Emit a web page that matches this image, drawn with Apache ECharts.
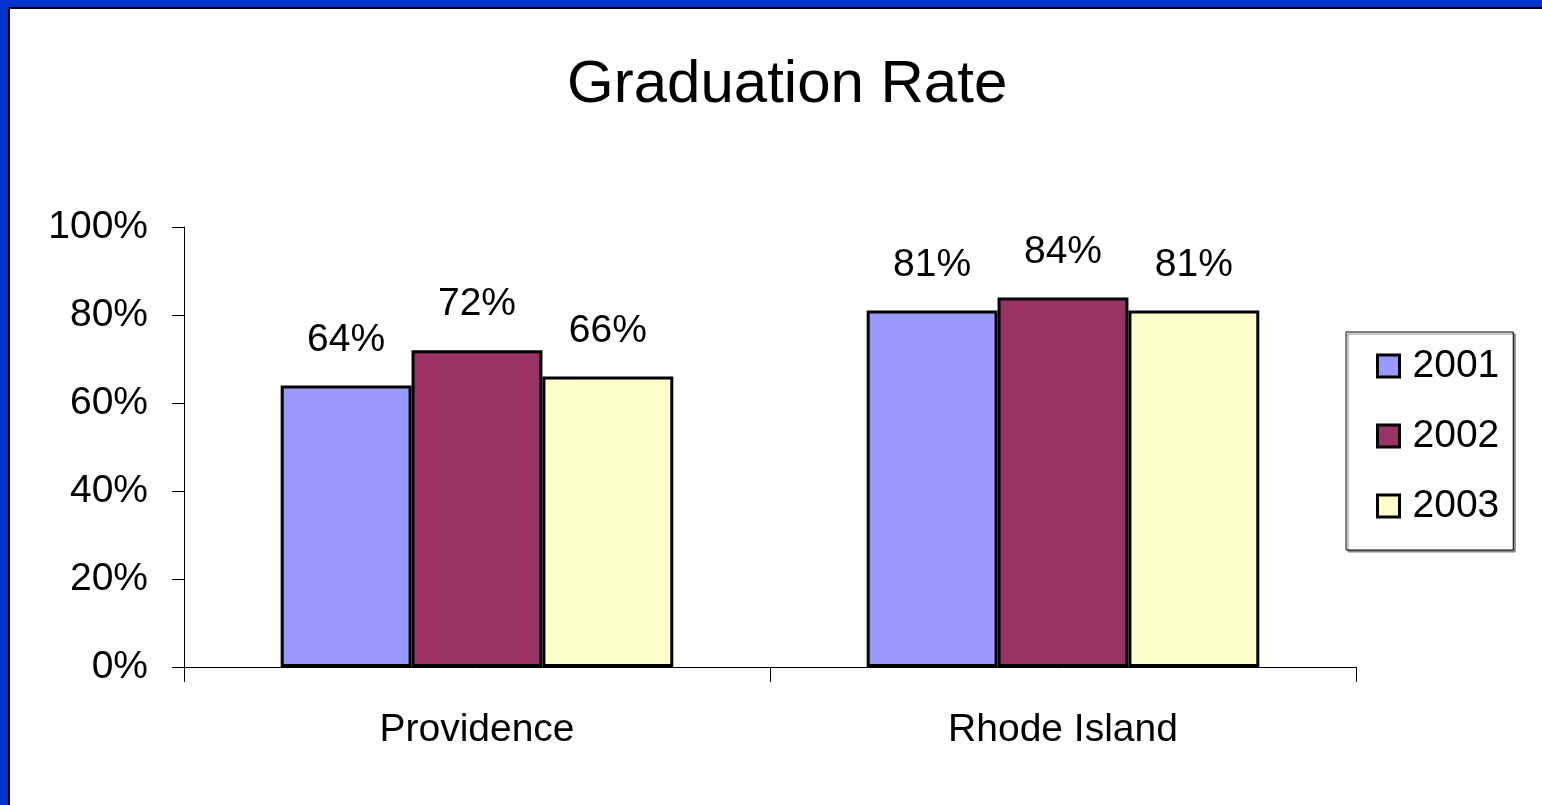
<!DOCTYPE html>
<html>
<head>
<meta charset="utf-8">
<title>Graduation Rate</title>
<script src="https://cdn.jsdelivr.net/npm/echarts@6/dist/echarts.min.js"></script>
<style>
  html, body { margin: 0; padding: 0; background: #fff; }
  #chart { position: absolute; left: 0; top: 0; width: 1542px; height: 805px; }
  #frame {
    position: absolute; left: 0; top: 0; width: 1542px; height: 805px;
    box-sizing: border-box; pointer-events: none;
    border-top: 7px solid #0033cc; border-left: 8px solid #0033cc;
  }
  #frame::after {
    content: ''; position: absolute; left: 0; top: 0; right: 0; bottom: 0;
    border-top: 2px solid #000; border-left: 2px solid #000;
  }
</style>
</head>
<body>
<div id="chart"></div>
<div id="frame"></div>
<script>
// data
var categories = ['Providence', 'Rhode Island'];
var years = ['2001', '2002', '2003'];
var rate2001 = [64, 81];
var rate2002 = [72, 84];
var rate2003 = [66, 81];
var barColors = ['#9999ff', '#993366', '#ffffcc'];

var font = 'Liberation Sans, Arial, sans-serif';
var chart = echarts.init(document.getElementById('chart'));

function bar(name, data, color) {
    return {
        name: name,
        type: 'bar',
        data: data,
        barGap: '0%',
        barCategoryGap: '33%',
        itemStyle: {
            color: color,
            borderColor: '#000',
            borderWidth: 3
        },
        label: {
            show: true,
            position: 'top',
            distance: 26,
            formatter: '{c}%',
            color: '#000',
            fontSize: 39,
            fontFamily: font
        }
    };
}

var option = {
    backgroundColor: '#fff',
    animation: false,
    title: {
        text: 'Graduation Rate',
        left: 562,
        top: 50,
        textStyle: {
            color: '#000',
            fontSize: 60,
            fontWeight: 'normal',
            fontFamily: font
        }
    },
    legend: {
        orient: 'vertical',
        left: 1346,
        top: 332,
        padding: [14, 14, 24, 30],
        itemGap: 30,
        itemWidth: 22,
        itemHeight: 22,
        icon: 'rect',
        borderColor: '#000',
        borderWidth: 1,
        backgroundColor: '#fff',
        shadowColor: '#888',
        shadowOffsetX: 2,
        shadowOffsetY: 2,
        shadowBlur: 0,
        itemStyle: { borderColor: '#000', borderWidth: 3 },
        textStyle: {
            color: '#000',
            fontSize: 39,
            fontFamily: font,
            lineHeight: 40,
            padding: [0, 0, 0, 8]
        },
        data: years
    },
    grid: {
        left: 184,
        top: 227,
        right: 186,
        bottom: 138
    },
    xAxis: {
        type: 'category',
        data: categories,
        axisLine: { lineStyle: { color: '#000', width: 1 } },
        axisTick: { show: true, length: 15, lineStyle: { color: '#000' } },
        axisLabel: {
            margin: 44,
            color: '#000',
            fontSize: 39,
            fontFamily: font
        }
    },
    yAxis: {
        type: 'value',
        min: 0,
        max: 100,
        interval: 20,
        splitLine: { show: false },
        axisLine: { show: true, lineStyle: { color: '#000', width: 1 } },
        axisTick: { show: true, length: 12, lineStyle: { color: '#000' } },
        axisLabel: {
            margin: 36,
            formatter: '{value}%',
            color: '#000',
            fontSize: 39,
            fontFamily: font
        }
    },
    series: [
        bar(years[0], rate2001, barColors[0]),
        bar(years[1], rate2002, barColors[1]),
        bar(years[2], rate2003, barColors[2])
    ]
};

chart.setOption(option);
</script>
</body>
</html>
